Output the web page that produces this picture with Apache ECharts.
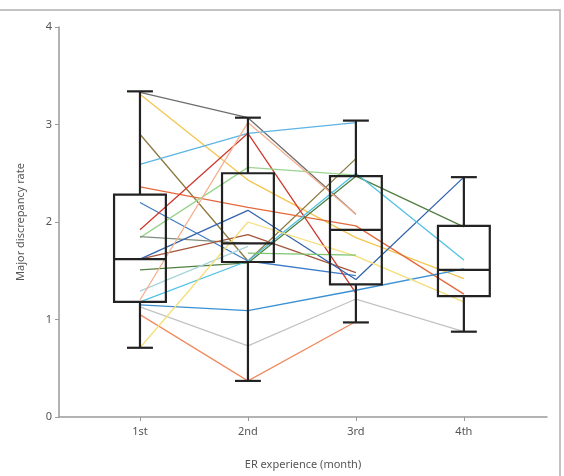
<!DOCTYPE html>
<html>
<head>
<meta charset="utf-8">
<script src="https://cdn.jsdelivr.net/npm/echarts@6.0.0/dist/echarts.min.js"></script>
<style>
  html, body { margin: 0; padding: 0; background: #fff; }
  #chart { width: 564px; height: 476px; }
</style>
</head>
<body>
<div id="chart"></div>
<script>
// 类别和刻度
const months = ['1st', '2nd', '3rd', '4th'];
const monthPos = [1, 2, 3, 4];
const yTicks = [0, 1, 2, 3, 4];

// 箱线图: [min, Q1, median, Q3, max]
const box1 = [0.71, 1.18, 1.62, 2.28, 3.34];
const box2 = [0.37, 1.59, 1.78, 2.50, 3.07];
const box3 = [0.97, 1.36, 1.92, 2.47, 3.04];
const box4 = [0.875, 1.24, 1.51, 1.96, 2.46];

// 每位住院医师的折线 (null = 该月无数据)
const resDarkGray   = [3.33, 3.07, 2.08, null];
const resGold       = [3.31, 2.43, 1.84, 1.42];
const resOlive      = [2.90, 1.60, 2.65, null];
const resSky        = [2.59, 2.91, 3.02, null];
const resOrangeRed  = [2.36, 2.15, 1.96, 1.26];
const resBlue       = [2.20, 1.60, 1.45, null];
const resRed        = [1.92, 2.91, 1.27, null];
const resLightGreen = [1.84, 2.56, 2.48, null];
const resGrayGreen  = [1.85, 1.78, null, null];
const resBrown      = [1.62, 1.87, 1.48, null];
const resDarkBlue   = [1.62, 2.12, 1.41, 2.46];
const resDarkGreen  = [1.51, 1.58, 2.47, 1.95];
const resTeal       = [1.29, 1.75, null, null];
const resCyan       = [1.18, 1.60, 2.50, 1.61];
const resMidBlue    = [1.15, 1.09, 1.30, 1.52];
const resLightGray  = [1.13, 0.73, 1.21, 0.875];
const resSalmon     = [1.05, 0.37, 0.98, null];
const resLightYel   = [0.71, 2.00, 1.65, 1.18];
const resPeach      = [1.20, 3.02, 2.08, null];
const resGreen      = [null, 1.68, 1.66, null];

const residents = [
    [resDarkGray, '#6e6e6e'], [resGold, '#f5c54f'], [resOlive, '#8c7b3e'],
    [resSky, '#5db4e4'], [resOrangeRed, '#e3693c'], [resBlue, '#3f7dc8'],
    [resRed, '#cf3a2e'], [resLightGreen, '#9ad48f'], [resGrayGreen, '#7d8d7d'],
    [resBrown, '#a4553a'], [resDarkBlue, '#3464ad'], [resDarkGreen, '#517f42'],
    [resTeal, '#a7d4dc'], [resCyan, '#4fc2e2'], [resMidBlue, '#3a90d3'],
    [resLightGray, '#c3c3c3'], [resSalmon, '#f08c62'], [resLightYel, '#f6de78'],
    [resPeach, '#f6b08f'], [resGreen, '#7dc46d']
];

const boxes = [box1, box2, box3, box4];

document.addEventListener('DOMContentLoaded', () => {
    const chart = echarts.init(document.getElementById('chart'));
    const font = 'Noto Sans';
    const axisColor = '#9a9a9a';

    const lineSeries = residents.map(([vals, color]) => ({
        type: 'line',
        symbol: 'none',
        silent: true,
        z: 2,
        lineStyle: { color: color, width: 1.3 },
        data: vals.map((v, i) => [monthPos[i], v]).filter(p => p[1] !== null)
    }));

    const boxSeries = {
        type: 'custom',
        z: 5,
        silent: true,
        data: boxes.map((b, i) => [monthPos[i]].concat(b)),
        renderItem: function (params, api) {
            const x = api.value(0);
            const halfW = api.size([0.24, 0])[0];
            const capW = api.size([0.12, 0])[0];
            const pMin = api.coord([x, api.value(1)]);
            const pQ1 = api.coord([x, api.value(2)]);
            const pMed = api.coord([x, api.value(3)]);
            const pQ3 = api.coord([x, api.value(4)]);
            const pMax = api.coord([x, api.value(5)]);
            const st = { stroke: '#222', lineWidth: 2.2, fill: null };
            return {
                type: 'group',
                children: [
                    { type: 'rect', shape: { x: pQ3[0] - halfW, y: pQ3[1], width: halfW * 2, height: pQ1[1] - pQ3[1] }, style: st },
                    { type: 'line', shape: { x1: pMed[0] - halfW, y1: pMed[1], x2: pMed[0] + halfW, y2: pMed[1] }, style: st },
                    { type: 'line', shape: { x1: pQ3[0], y1: pQ3[1], x2: pMax[0], y2: pMax[1] }, style: st },
                    { type: 'line', shape: { x1: pQ1[0], y1: pQ1[1], x2: pMin[0], y2: pMin[1] }, style: st },
                    { type: 'line', shape: { x1: pMax[0] - capW, y1: pMax[1], x2: pMax[0] + capW, y2: pMax[1] }, style: st },
                    { type: 'line', shape: { x1: pMin[0] - capW, y1: pMin[1], x2: pMin[0] + capW, y2: pMin[1] }, style: st }
                ]
            };
        }
    };

    const option = {
        animation: false,
        backgroundColor: '#fff',
        textStyle: { fontFamily: font },
        graphic: [{
            type: 'rect',
            shape: { x: -5, y: 10, width: 565, height: 480 },
            style: { fill: null, stroke: '#b0b0b0', lineWidth: 1.5 },
            z: 0
        }],
        grid: { left: 59, right: 17, top: 27, bottom: 59 },
        xAxis: {
            type: 'value',
            min: 0.25,
            max: 4.77,
            name: 'ER experience (month)',
            nameLocation: 'middle',
            nameGap: 42,
            nameTextStyle: { color: '#555', fontSize: 11, fontFamily: font },
            splitLine: { show: false },
            axisLine: { lineStyle: { color: axisColor, width: 1.5 } },
            axisTick: { customValues: monthPos, length: 4, lineStyle: { color: axisColor } },
            axisLabel: {
                customValues: monthPos,
                formatter: v => months[monthPos.indexOf(v)] || '',
                color: '#555', fontSize: 11, margin: 9
            }
        },
        yAxis: {
            type: 'value',
            min: 0,
            max: 4,
            interval: 1,
            name: 'Major discrepancy rate',
            nameLocation: 'middle',
            nameGap: 33,
            nameTextStyle: { color: '#555', fontSize: 11, fontFamily: font },
            splitLine: { show: false },
            axisLine: { show: true, lineStyle: { color: axisColor, width: 1.5 } },
            axisTick: { show: true, length: 4, lineStyle: { color: axisColor } },
            axisLabel: {
                formatter: v => yTicks.indexOf(v) >= 0 ? String(v) : '',
                color: '#555', fontSize: 11, margin: 7
            }
        },
        series: lineSeries.concat([boxSeries])
    };

    chart.setOption(option);
});
</script>
</body>
</html>
